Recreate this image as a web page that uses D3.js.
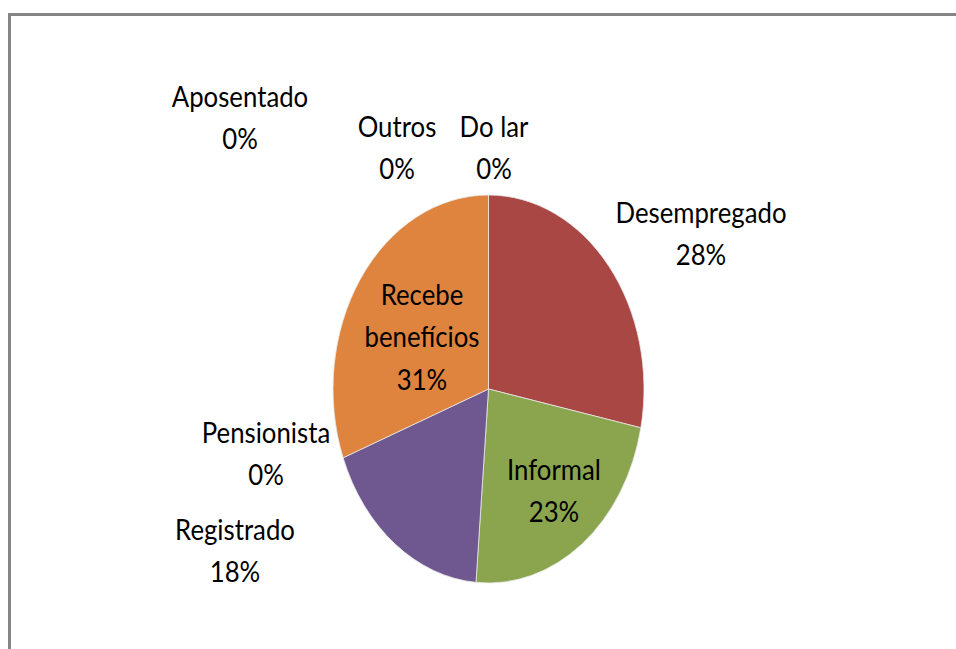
<!DOCTYPE html>
<html>
<head>
<meta charset="utf-8">
<script src="https://cdn.jsdelivr.net/npm/d3@7"></script>
<style>
  body { margin: 0; background: #fff; }
  svg { display: block; }
  .label { font-family: Lato, "Open Sans", sans-serif; font-size: 28px; fill: #000; }
</style>
</head>
<body>
<svg id="chart" width="956" height="649"></svg>
<script>
// data (counts)
let categories = ["Do lar", "Desempregado", "Informal", "Registrado", "Pensionista", "Recebe benefícios", "Aposentado", "Outros"];
let counts = [0, 11, 9, 7, 0, 12, 0, 0];
let colors = ["#4a7ebb", "#a94745", "#8ba54f", "#6f578f", "#47a3bd", "#de843f", "#b0b0b0", "#b0b0b0"];

// label layout: block centre x, first baseline y, and lines
let labelPos = [[494, 137], [701, 223], [554, 480], [235, 540], [266, 443], [422, 305], [240, 107], [397, 137]];
let labelLines = [["Do lar"], ["Desempregado"], ["Informal"], ["Registrado"], ["Pensionista"], ["Recebe", "benefícios"], ["Aposentado"], ["Outros"]];

// layout
let width = 956;
let height = 649;
let cx = 488.5;
let cy = 389;
let rx = 155.5;
let ry = 194;
let lineHeight = 42.5;
let textScale = 0.92;

let svg = d3.select("#chart");

// chart frame (runs off the right and bottom edges)
svg.append("rect")
    .attr("x", 9.5)
    .attr("y", 14.5)
    .attr("width", width + 20)
    .attr("height", height + 20)
    .attr("fill", "none")
    .attr("stroke", "#858585")
    .attr("stroke-width", 3);

let total = d3.sum(counts);

let pie = d3.pie()
    .sort(null)
    .value(d => d);

let arcs = pie(counts);

let arc = d3.arc()
    .innerRadius(0)
    .outerRadius(rx);

// the pie is stretched vertically into an ellipse
let pieGroup = svg.append("g")
    .attr("transform", `translate(${cx},${cy}) scale(1,${ry / rx})`);

pieGroup.selectAll("path")
    .data(arcs.filter(d => d.data > 0))
    .join("path")
    .attr("d", arc)
    .attr("fill", d => colors[d.index])
    .attr("stroke", "#e8e8e8")
    .attr("stroke-width", 0.8)
    .attr("vector-effect", "non-scaling-stroke");

// labels
let labels = svg.append("g");

categories.forEach(function(name, i) {
  let lines = labelLines[i].concat([Math.round(counts[i] / total * 100) + "%"]);
  let text = labels.append("text")
      .attr("class", "label")
      .attr("text-anchor", "middle")
      .attr("transform", `translate(${labelPos[i][0]},${labelPos[i][1]}) scale(${textScale},1)`);

  text.selectAll("tspan")
      .data(lines)
      .join("tspan")
      .attr("x", 0)
      .attr("y", (d, j) => j * lineHeight)
      .text(d => d);
});
</script>
</body>
</html>
